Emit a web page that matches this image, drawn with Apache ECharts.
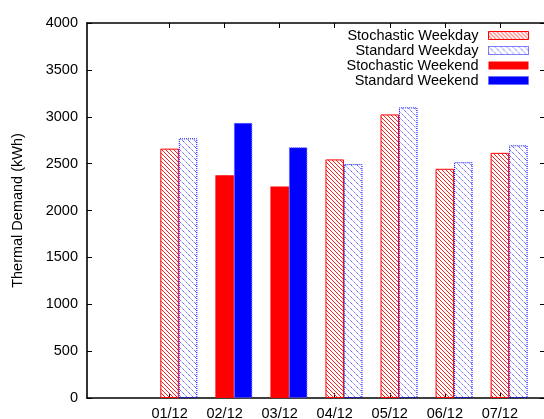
<!DOCTYPE html>
<html>
<head>
<meta charset="utf-8">
<script src="https://cdn.jsdelivr.net/npm/echarts@6/dist/echarts.min.js"></script>
<style>
  html, body { margin: 0; padding: 0; background: #fff; }
  #chart { width: 544px; height: 419px; }
</style>
</head>
<body>
<div id="chart"></div>
<script>
// ---- data ----
const categories = ['01/12', '02/12', '03/12', '04/12', '05/12', '06/12', '07/12'];
const dayTypes = ['weekday', 'weekend', 'weekend', 'weekday', 'weekday', 'weekday', 'weekday'];
const stochasticValues = [2660, 2375, 2255, 2545, 3025, 2445, 2615];
const standardValues = [2770, 2935, 2675, 2495, 3100, 2515, 2695];
const yTicks = [0, 500, 1000, 1500, 2000, 2500, 3000, 3500, 4000];
const seriesNames = ['Stochastic Weekday', 'Standard Weekday', 'Stochastic Weekend', 'Standard Weekend'];
const yAxisTitle = 'Thermal Demand (kWh)';

// ---- layout constants ----
const BAR_SHIFT = 0.336;   // offset (in category units) of the second bar of a pair
const FONT = 'Liberation Sans, Arial, Helvetica, sans-serif';

function hatch(color, s, dash) {
  const c = document.createElement('canvas');
  c.width = s; c.height = s;
  const ctx = c.getContext('2d');
  ctx.strokeStyle = color;
  ctx.lineWidth = 1;
  if (dash) ctx.setLineDash(dash);
  ctx.beginPath();
  ctx.moveTo(-1, -1); ctx.lineTo(s + 1, s + 1);
  ctx.moveTo(-1, s - 1); ctx.lineTo(1, s + 1);
  ctx.moveTo(s - 1, -1); ctx.lineTo(s + 1, 1);
  ctx.stroke();
  return c;
}

function pick(values, type, shift) {
  const out = [];
  categories.forEach((c, i) => {
    if (dayTypes[i] === type) out.push([i + shift, values[i]]);
  });
  return out;
}

const redHatch = { image: hatch('#ff2020', 4), repeat: 'repeat' };
const blueHatch = { image: hatch('#2020ff', 6, [1, 1]), repeat: 'repeat' };

const styles = [
  { color: redHatch, borderColor: '#ff0000', borderWidth: 1, borderType: 'solid' },
  { color: blueHatch, borderColor: '#0000ff', borderWidth: 1, borderType: 'dotted' },
  { color: '#ff0000', borderColor: '#ff0000', borderWidth: 0, borderType: 'solid' },
  { color: '#0000ff', borderColor: '#6060ff', borderWidth: 1, borderType: 'dotted' }
];

const tickIdx = categories.map((c, i) => i);

const chart = echarts.init(document.getElementById('chart'), null, { renderer: 'canvas' });

const barCommon = { type: 'bar', barWidth: 18.5, barGap: '-100%', animation: false };
const AXIS_LINE = { color: '#000', width: 1.6 };

chart.setOption({
  backgroundColor: '#ffffff',
  animation: false,
  textStyle: { fontFamily: FONT },
  grid: { left: 87, top: 23, right: -1, bottom: 21, outerBoundsMode: 'none', containLabel: false },
  legend: {
    orient: 'vertical',
    right: 10,
    top: 23,
    align: 'right',
    itemWidth: 40,
    itemHeight: 8,
    itemGap: 0,
    icon: 'rect',
    textStyle: { fontSize: 14.5, color: '#000', fontFamily: FONT, lineHeight: 14.6, padding: [0, 5, 0, 0] },
    data: seriesNames.map((n, i) => ({ name: n, itemStyle: styles[i] }))
  },
  xAxis: [{
    type: 'value',
    min: -1.5,
    max: 6.82,
    position: 'bottom',
    splitLine: { show: false },
    axisLine: { show: true, onZero: false, lineStyle: AXIS_LINE },
    axisTick: { show: true, inside: true, length: 5, customValues: tickIdx, lineStyle: { color: '#000' } },
    axisLabel: {
      customValues: tickIdx,
      formatter: v => categories[Math.round(v)] || '',
      fontSize: 14.5, color: '#000', margin: 8, fontFamily: FONT
    }
  }, {
    type: 'value',
    min: -1.5,
    max: 6.82,
    position: 'top',
    splitLine: { show: false },
    axisLine: { show: true, onZero: false, lineStyle: AXIS_LINE },
    axisTick: { show: true, inside: true, length: 5, customValues: tickIdx, lineStyle: { color: '#000' } },
    axisLabel: { show: false }
  }],
  yAxis: [{
    type: 'value',
    min: 0,
    max: 4000,
    interval: 500,
    position: 'left',
    name: yAxisTitle,
    nameLocation: 'middle',
    nameGap: 62,
    nameRotate: 90,
    nameTextStyle: { fontSize: 14.5, color: '#000', fontFamily: FONT },
    splitLine: { show: false },
    axisLine: { show: true, onZero: false, lineStyle: AXIS_LINE },
    axisTick: { show: true, inside: true, length: 5, lineStyle: { color: '#000' } },
    axisLabel: {
      fontSize: 14.5, color: '#000', margin: 9, fontFamily: FONT,
      formatter: v => (yTicks.indexOf(v) >= 0 ? String(v) : '')
    }
  }, {
    type: 'value',
    min: 0,
    max: 4000,
    interval: 500,
    position: 'right',
    splitLine: { show: false },
    axisLine: { show: true, onZero: false, lineStyle: AXIS_LINE },
    axisTick: { show: true, inside: true, length: 5, lineStyle: { color: '#000' } },
    axisLabel: { show: false }
  }],
  series: [
    Object.assign({}, barCommon, {
      name: seriesNames[0],
      data: pick(stochasticValues, 'weekday', 0),
      itemStyle: styles[0]
    }),
    Object.assign({}, barCommon, {
      name: seriesNames[1],
      data: pick(standardValues, 'weekday', BAR_SHIFT),
      itemStyle: styles[1]
    }),
    Object.assign({}, barCommon, {
      name: seriesNames[2],
      data: pick(stochasticValues, 'weekend', 0),
      itemStyle: styles[2]
    }),
    Object.assign({}, barCommon, {
      name: seriesNames[3],
      data: pick(standardValues, 'weekend', BAR_SHIFT),
      itemStyle: styles[3]
    })
  ]
});
</script>
</body>
</html>
